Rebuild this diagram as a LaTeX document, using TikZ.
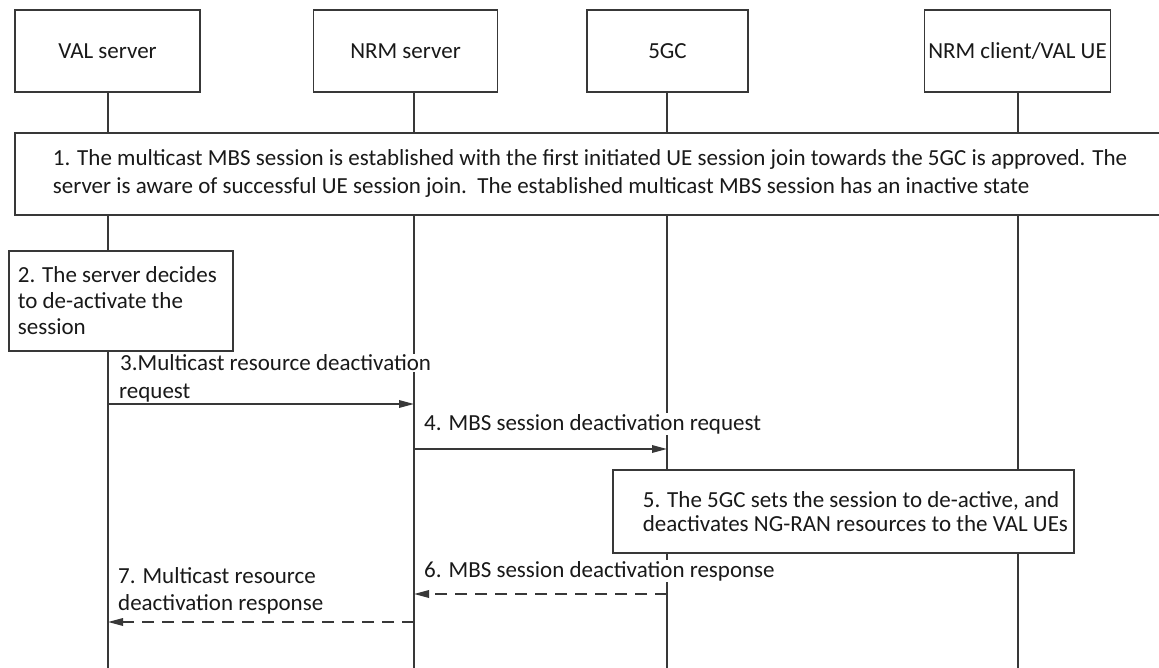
\documentclass[tikz,border=0pt]{standalone}
\usepackage{fontspec}
\setmainfont{Carlito}
\usetikzlibrary{arrows.meta}
\begin{document}
\begin{tikzpicture}[x=1pt,y=-1pt,
  every node/.style={font=\fontsize{23}{27.5}\selectfont, text=black!90},
  ln/.style={line width=1.7pt, draw=black!78},
  actor/.style={ln, fill=white, minimum height=82pt, inner sep=0pt},
  notebox/.style={ln, fill=white, inner sep=0pt},
  msglabel/.style={inner xsep=2pt, inner ysep=1pt, align=left},
  msg/.style={ln, -{Triangle[length=15pt,width=7.5pt]}},
  reply/.style={msg, dash pattern=on 12pt off 8pt}]
\useasboundingbox[fill=white] (0,0) rectangle (1159,668);
\begin{scope}
\clip (0,0) rectangle (1159,668);
% actors
\node[actor, minimum width=185pt] (val) at (107.5,51) {VAL server};
\node[actor, minimum width=184pt] (nrm) at (405.5,51) {NRM server};
\node[actor, minimum width=161pt] (fgc) at (667.5,51) {5GC};
\node[actor, minimum width=186pt] (ue) at (1017.5,51) {NRM client/VAL UE};
% lifeline ends
\coordinate (valEnd) at (108,670);
\coordinate (nrmEnd) at (414,670);
\coordinate (fgcEnd) at (667,670);
\coordinate (ueEnd) at (1018,670);
\draw[ln] (val.south -| valEnd) -- (valEnd);
\draw[ln] (nrm.south -| nrmEnd) -- (nrmEnd);
\draw[ln] (fgc.south -| fgcEnd) -- (fgcEnd);
\draw[ln] (ue.south -| ueEnd) -- (ueEnd);
% step 1
\node[notebox, anchor=north west, minimum height=82pt] (s1) at (14,132)
  {\parbox{1176pt}{\raggedright\leftskip=38pt\baselineskip=28pt
   \mbox{1. The multicast MBS session is established with the first initiated UE session join towards the 5GC is approved. The}\\
   \mbox{server is aware of successful UE session join.\ \ The established multicast MBS session has an inactive state}\par}};
% step 2
\node[notebox, anchor=north west, minimum height=100pt] (s2) at (8,250)
  {\parbox{224pt}{\raggedright\leftskip=9pt\baselineskip=26pt
   \mbox{2. The server decides}\\ \mbox{to de-activate the}\\ \mbox{session}\par}};
% step 5
\node[notebox, anchor=north west, minimum height=83pt] (s5) at (612,469)
  {\parbox{461pt}{\raggedright\leftskip=30pt\baselineskip=24pt
   \mbox{5. The 5GC sets the session to de-active, and}\\ \mbox{deactivates NG-RAN resources to the VAL UEs}\par}};
% message end points
\coordinate (m3a) at (108,404);
\coordinate (m3b) at (414,404);
\coordinate (m4a) at (414,449);
\coordinate (m4b) at (667,449);
\coordinate (m6a) at (667,594);
\coordinate (m6b) at (414,594);
\coordinate (m7a) at (414,622);
\coordinate (m7b) at (108,622);
% labels
\node[msglabel, anchor=west] (l3) at (117,378)
  {\fboxsep=1pt\colorbox{white}{3.Multicast resource deactivation}\\request};
\node[msglabel, fill=white, anchor=west] (l4) at (422,424) {4. MBS session deactivation request};
\node[msglabel, fill=white, anchor=west] (l6) at (422,571) {6. MBS session deactivation response};
\node[msglabel, anchor=west] (l7) at (116,591) {7. Multicast resource\\deactivation response};
% messages
\draw[msg] (m3a) -- (m3b);
\draw[msg] (m4a) -- (m4b);
\draw[reply] (m6a) -- (m6b);
\draw[reply] (m7a) -- (m7b);
\end{scope}
\end{tikzpicture}
\end{document}
